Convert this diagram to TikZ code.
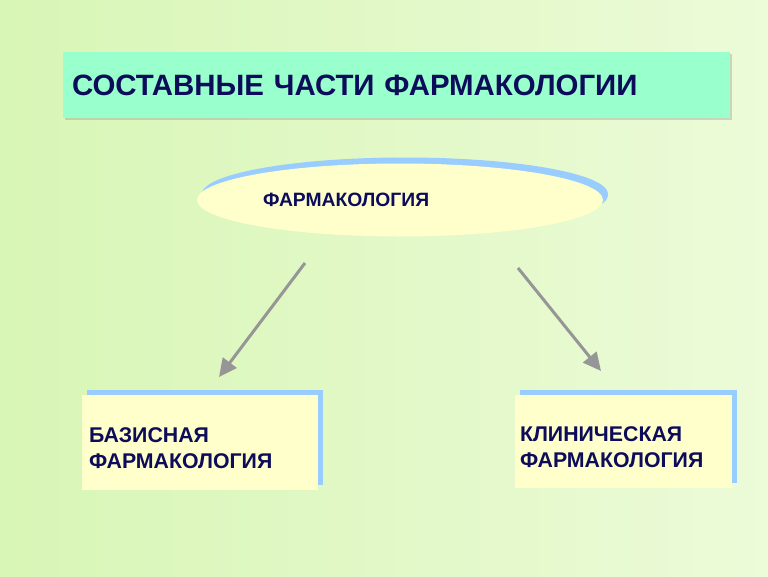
\documentclass[tikz,border=0pt]{standalone}
\usepackage{fontspec}
\setmainfont{Liberation Sans}
\usetikzlibrary{positioning,shapes.geometric,shadows,arrows.meta}
\definecolor{bgA}{RGB}{216,246,182}
\definecolor{bgB}{RGB}{236,251,216}
\definecolor{aqua}{RGB}{153,255,204}
\definecolor{paleyel}{RGB}{255,255,204}
\definecolor{shblue}{RGB}{153,204,255}
\definecolor{navy}{RGB}{12,12,90}
\definecolor{arrgray}{RGB}{150,150,150}

\begin{document}
\begin{tikzpicture}[x=1pt,y=-1pt,
title/.style={fill=aqua,minimum height=66pt,text width=649pt,inner xsep=9pt,inner ysep=0pt,align=left,
    general shadow={fill=gray,opacity=.3,shadow xshift=2pt,shadow yshift=-2pt}},
part/.style={fill=paleyel,inner sep=0pt,align=left,
    general shadow={fill=shblue,shadow xshift=5pt,shadow yshift=5pt}},
lbl/.style={font=\fontsize{21.3}{26}\selectfont\bfseries,text=navy},
lnk/.style={draw=arrgray,line width=3pt,-{Triangle[length=18pt,width=17pt]}}]
\useasboundingbox (0,0) rectangle (768,576);
\shade[left color=bgA,right color=bgB] (0,0) rectangle (768,576);

\node (head) [title,font=\fontsize{29.4}{34}\selectfont\bfseries,text=navy] at (396.5,85)
    {СОСТАВНЫЕ ЧАСТИ ФАРМАКОЛОГИИ};

\node (farm) [part,ellipse,minimum width=406pt,minimum height=73pt,text width=274pt,
    general shadow={fill=shblue,shadow xshift=5pt,shadow yshift=6pt},
    font=\fontsize{19.3}{22}\selectfont\bfseries,text=navy] at (400,200)
    {ФАРМАКОЛОГИЯ};

\node (base) [part,lbl,minimum height=95pt,text width=222pt,inner xsep=7pt] at (200,442.5)
    {\rule{0pt}{26pt}БАЗИСНАЯ\\ФАРМАКОЛОГИЯ};
\node (clin) [part,lbl,minimum height=93pt,text width=207pt,inner xsep=5pt] at (623.5,441.5)
    {\rule{0pt}{26pt}КЛИНИЧЕСКАЯ\\ФАРМАКОЛОГИЯ};

\coordinate (ls) at (305,263);
\coordinate (le) at (219,377);
\coordinate (rs) at (518,268);
\coordinate (re) at (601,371);
\draw [lnk] (ls) -- (le);
\draw [lnk] (rs) -- (re);
\end{tikzpicture}
\end{document}
